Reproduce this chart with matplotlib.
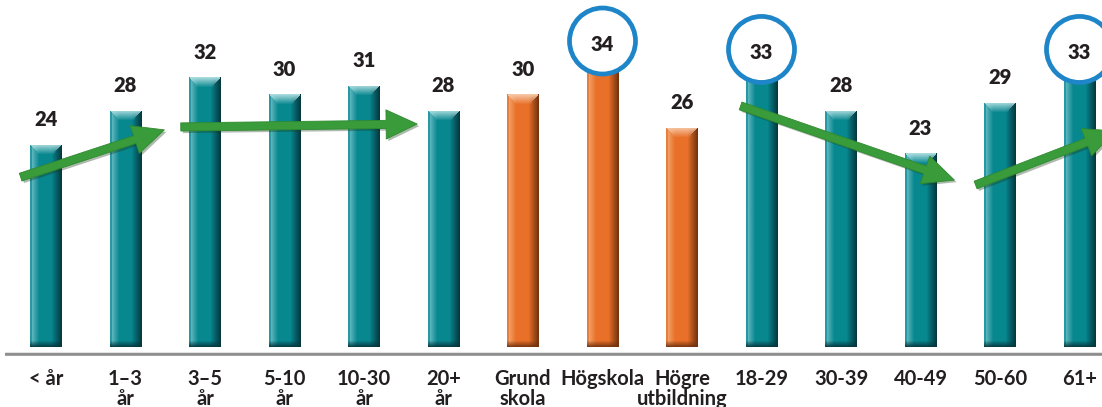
import numpy as np
import matplotlib
matplotlib.use("Agg")
import matplotlib.pyplot as plt
from matplotlib.patches import Ellipse, FancyArrowPatch
from matplotlib.lines import Line2D
import matplotlib.patheffects as pe

# ---------------- data ----------------
categories = ["< år", "1–3\når", "3–5\når", "5-10\når", "10-30\når", "20+\når",
              "Grund\nskola", "Högskola", "Högre\nutbildning",
              "18-29", "30-39", "40-49", "50-60", "61+"]
values = [24, 28, 32, 30, 31, 28, 30, 34, 26, 33, 28, 23, 29, 33]
group = ["t", "t", "t", "t", "t", "t", "o", "o", "o", "t", "t", "t", "t", "t"]
highlight = [False, False, False, False, False, False, False, True, False,
             True, False, False, False, True]

# ---------------- figure geometry ----------------
W, H, DPI = 1102, 407, 100
PX_PER_UNIT = 8.43
BASE_PX = 347          # baseline (y=0) in pixels from top
AX_BOTTOM_PX = 357
X0_PX, STEP_PX = 46, 79.5

fig = plt.figure(figsize=(W / DPI, H / DPI), dpi=DPI)
fig.patch.set_facecolor("white")
ax = fig.add_axes([0, (H - AX_BOTTOM_PX) / H, 1, AX_BOTTOM_PX / H])
ax.set_xlim(-X0_PX / STEP_PX, (W - X0_PX) / STEP_PX)
ax.set_ylim(-(AX_BOTTOM_PX - BASE_PX) / PX_PER_UNIT, BASE_PX / PX_PER_UNIT)
for s in ax.spines.values():
    s.set_visible(False)
ax.set_yticks([])

def px2x(px):
    return (px - X0_PX) / STEP_PX

def px2y(py):
    return (BASE_PX - py) / PX_PER_UNIT

x = np.arange(len(values))
bw = 0.39

palettes = {
    "t": dict(edge=(0.16, 0.60, 0.63), light=(0.36, 0.71, 0.74), main=(0.03, 0.53, 0.56),
              dark=(0.02, 0.22, 0.25), top=(0.66, 0.86, 0.87)),
    "o": dict(edge=(0.90, 0.50, 0.25), light=(0.95, 0.62, 0.40), main=(0.91, 0.44, 0.16),
              dark=(0.45, 0.20, 0.06), top=(0.97, 0.78, 0.65)),
}

bars = ax.bar(x, values, width=bw, color="none", edgecolor="none", zorder=2)

def bar_image(v, pal):
    nx = 32
    ny = max(int(round(v * PX_PER_UNIT)), 20)
    u = np.linspace(0, 1, nx)
    prof = np.zeros((nx, 3))
    for i, t in enumerate(u):
        if t < 0.06:
            c = np.array(pal["edge"])
        elif t < 0.28:
            k = (t - 0.06) / 0.22
            c = np.array(pal["light"]) * (1 - k) + np.array(pal["main"]) * k
        elif t < 0.68:
            c = np.array(pal["main"])
        else:
            k = (t - 0.68) / 0.32
            c = np.array(pal["main"]) * (1 - k) + np.array(pal["dark"]) * k
        prof[i] = c
    img = np.tile(prof, (ny, 1, 1))
    cap = 10
    for r in range(min(cap, ny)):
        k = r / cap
        for i, t in enumerate(u):
            inset = min(t, 1 - t) * nx
            if inset > r * 0.9:
                img[r, i] = np.array(pal["top"]) * (1 - k) + img[r, i] * k
    bot = 6
    for r in range(bot):
        rr = ny - 1 - r
        k = r / bot
        for i in range(nx):
            img[rr, i] = np.array(pal["dark"]) * (1 - k) * 0.9 + img[rr, i] * (0.1 + 0.9 * k)
    return img

for b, v, g in zip(bars, values, group):
    img = bar_image(v, palettes[g])
    xl = b.get_x()
    im = ax.imshow(img, extent=[xl, xl + bw, 0, v], aspect="auto",
                   interpolation="bilinear", zorder=2)
    im.set_clip_path(b)

# baseline line
ax.add_line(Line2D([px2x(5), px2x(W + 10)], [px2y(354), px2y(354)],
                   color="#8c8c8c", lw=2.6, zorder=1, solid_capstyle="butt"))
ax.add_line(Line2D([px2x(5), px2x(W + 10)], [px2y(351.5), px2y(351.5)],
                   color="#e2e2e2", lw=0.8, zorder=1))

FONT = ["Lato", "DejaVu Sans"]

# value labels
lab_off_plain = 25 / PX_PER_UNIT
lab_off_circ = 16 / PX_PER_UNIT
for xi, v, h in zip(x, values, highlight):
    yl = v + (lab_off_circ if h else lab_off_plain)
    if h:
        rx = 2 * 33 / STEP_PX
        ry = 2 * 33 / PX_PER_UNIT
        ax.add_patch(Ellipse((xi, yl + 0.4), rx, ry, facecolor="white",
                             edgecolor="#1e86c8", lw=3.4, zorder=4))
    ax.text(xi, yl, str(v), ha="center", va="center", fontsize=14.5,
            fontweight="heavy", color="#231f20", family=FONT, zorder=5)

# green trend arrows
arrows = [((18, 178), (167, 129)),
          ((178, 127), (420, 124)),
          ((738, 105), (957, 181)),
          ((973, 186), (1118, 130))]
for (t0, t1) in arrows:
    a = FancyArrowPatch((px2x(t0[0]), px2y(t0[1])), (px2x(t1[0]), px2y(t1[1])),
                        arrowstyle="simple,head_length=1.6,head_width=1.5,tail_width=0.42",
                        mutation_scale=14, facecolor="#3a9b3a", edgecolor="#2f8a30",
                        lw=0.6, zorder=3)
    a.set_path_effects([pe.SimplePatchShadow(offset=(1.5, -1.5), shadow_rgbFace="#1a3a1a", alpha=0.35),
                        pe.Normal()])
    ax.add_patch(a)

# category labels
ax.set_xticks(x)
ax.set_xticklabels(categories, fontsize=14.5, fontweight="bold", color="#231f20",
                   family=FONT, linespacing=1.0)
ax.tick_params(axis="x", length=0, pad=8.5)

fig.savefig("out.png", dpi=DPI, facecolor="white")
